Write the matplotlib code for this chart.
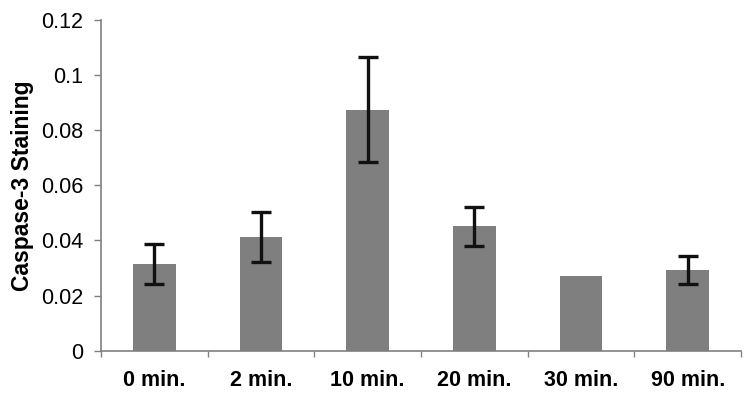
import numpy as np
import matplotlib
matplotlib.use("Agg")
import matplotlib.pyplot as plt

# Data
categories = ["0 min.", "2 min.", "10 min.", "20 min.", "30 min.", "90 min."]
staining = [0.0315, 0.0412, 0.0874, 0.0451, 0.0271, 0.0292]
errors = [0.0072, 0.0090, 0.0190, 0.0072, 0.0, 0.0050]

plt.rcParams["font.family"] = ["Liberation Sans", "DejaVu Sans"]

fig = plt.figure(figsize=(7.56, 4.03), dpi=100)
ax = fig.add_axes([0.1336, 0.1298, 0.8466, 0.8206])

x = np.arange(len(categories))
err_shown = [e if e > 0 else np.nan for e in errors]
ax.bar(x, staining, width=0.4, color="#7f7f7f", zorder=2)
ax.errorbar(x, staining, yerr=err_shown, fmt="none", ecolor="#111111",
            elinewidth=2.4, capsize=7.5, capthick=2.4, zorder=3)

ax.set_xlim(-0.5, len(categories) - 0.5)
ax.set_ylim(0, 0.12)
ax.set_yticks(np.arange(0, 0.121, 0.02))
ax.set_yticklabels(["0", "0.02", "0.04", "0.06", "0.08", "0.1", "0.12"])

# category boundary ticks, labels at centres
ax.set_xticks(np.arange(-0.5, len(categories), 1.0))
ax.set_xticklabels([])
ax.set_xticks(x, minor=True)
ax.set_xticklabels(categories, minor=True, fontsize=15.5, fontweight="bold")
ax.tick_params(axis="x", which="minor", length=0, pad=14)
ax.tick_params(axis="x", which="major", length=4, width=1, color="#808080",
               direction="out")
ax.tick_params(axis="y", length=5, width=1, color="#808080", labelsize=15.5,
               pad=8)

for side in ["top", "right"]:
    ax.spines[side].set_visible(False)
for side in ["left", "bottom"]:
    ax.spines[side].set_color("#808080")
    ax.spines[side].set_linewidth(1.2)

ax.set_ylabel("Caspase-3 Staining", fontsize=16.5, fontweight="bold",
              labelpad=5)

fig.savefig("out.png", dpi=100)
